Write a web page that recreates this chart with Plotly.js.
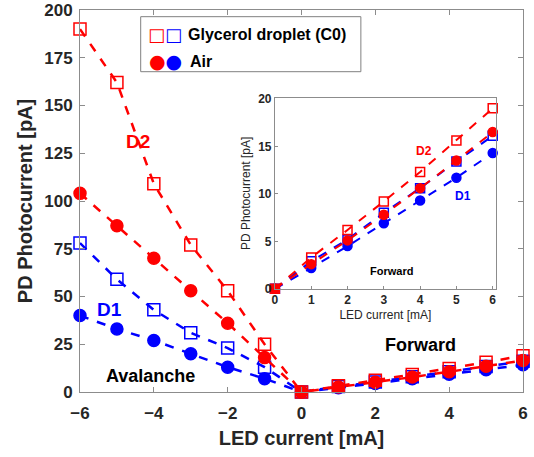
<!DOCTYPE html>
<html><head><meta charset="utf-8">
<script src="https://cdn.plot.ly/plotly-3.0.1.min.js"></script>
<style>body{margin:0;background:#fff}#c{width:534px;height:457px}</style>
</head><body><div id="c"></div>
<script>
const ledCurrent = [-6,-5,-4,-3,-2,-1,0,1,2,3,4,5,6];
const glycerolD2 = [190,162,109,77,53,25,0,3.3,6.2,9.2,12.3,15.6,19.0];
const airD2      = [104,87,70,53,36,18,0,2.6,5.1,7.8,10.6,13.5,16.5];
const glycerolD1 = [78,59,43,31,23,13,0,2.9,5.2,8.0,10.6,13.4,16.1];
const airD1      = [40,33,27,20,13,7,0,2.2,4.5,6.9,9.3,11.7,14.3];
const fwdCurrent = [0,1,2,3,4,5,6];
const fwdGlyD2 = glycerolD2.slice(6);
const fwdAirD2 = airD2.slice(6);
const fwdGlyD1 = glycerolD1.slice(6);
const fwdAirD1 = airD1.slice(6);

const RED='#ff0000', BLUE='#0000ff';
function tr(x,y,color,sym,xa,ya,msize,lw){
  return {x:x,y:y,xaxis:xa,yaxis:ya,type:'scatter',mode:'lines+markers',showlegend:false,cliponaxis:false,
    line:{color:color,dash:'dash',width:lw},
    marker:{symbol:sym,size:msize,color:color,line:{color:color,width:1.5}}};
}
const data=[
  tr(ledCurrent,airD1,BLUE,'circle','x','y',12,2.5),
  tr(ledCurrent,glycerolD1,BLUE,'square-open','x','y',12,2.5),
  tr(ledCurrent,airD2,RED,'circle','x','y',12,2.5),
  tr(ledCurrent,glycerolD2,RED,'square-open','x','y',12,2.5),
  tr(fwdCurrent,fwdAirD1,BLUE,'circle','x2','y2',9,2),
  tr(fwdCurrent,fwdGlyD1,BLUE,'square-open','x2','y2',9,2),
  tr(fwdCurrent,fwdAirD2,RED,'circle','x2','y2',9,2),
  tr(fwdCurrent,fwdGlyD2,RED,'square-open','x2','y2',9,2)
];
const axC='#8c8c8c', txt='#262626';
const F='Liberation Sans, Arial, sans-serif';
const layout={
  width:534,height:457,margin:{l:80,r:11,t:10,b:65},
  paper_bgcolor:'#fff',plot_bgcolor:'#fff',
  font:{family:F,color:txt},
  xaxis:{range:[-6,6],tickvals:[-6,-4,-2,0,2,4,6],showgrid:false,zeroline:false,
    showline:true,mirror:'ticks',linecolor:axC,linewidth:1,ticks:'inside',ticklen:5,tickcolor:axC,
    ticklabelstandoff:6,
    tickfont:{size:17,weight:'bold',color:txt},
    title:{text:'LED current [mA]',font:{size:20,weight:'bold',color:txt},standoff:8}},
  yaxis:{range:[0,200],tickvals:[0,25,50,75,100,125,150,175,200],showgrid:false,zeroline:false,
    showline:true,mirror:'ticks',linecolor:axC,linewidth:1,ticks:'inside',ticklen:5,tickcolor:axC,
    ticklabelstandoff:3,
    tickfont:{size:17,weight:'bold',color:txt},
    title:{text:'PD Photocurrent [pA]',font:{size:20,weight:'bold',color:txt},standoff:6}},
  xaxis2:{domain:[0.440,0.939],anchor:'y2',range:[0,6.09],tickvals:[0,1,2,3,4,5,6],showgrid:false,zeroline:false,
    showline:true,mirror:true,linecolor:axC,linewidth:1,ticks:'inside',ticklen:3,tickcolor:axC,
    tickfont:{size:12,weight:'bold',color:txt},
    title:{text:'LED current [mA]',font:{size:12,color:txt},standoff:4}},
  yaxis2:{domain:[0.270,0.770],anchor:'x2',range:[0,20.1],tickvals:[0,5,10,15,20],showgrid:false,zeroline:false,
    showline:true,mirror:true,linecolor:axC,linewidth:1,ticks:'inside',ticklen:3,tickcolor:axC,
    tickfont:{size:12,weight:'bold',color:txt},
    title:{text:'PD Photocurrent [pA]',font:{size:12,color:txt},standoff:4}},
  shapes:[{type:'rect',xref:'paper',yref:'paper',x0:0.137,x1:0.634,y0:0.8385,y1:0.9825,
    line:{color:'#808080',width:1},fillcolor:'#fff',layer:'above'}],
  annotations:[
    {xref:'x',yref:'y',x:-4.43,y:131,text:'D2',showarrow:false,font:{size:19,weight:'bold',color:RED}},
    {xref:'x',yref:'y',x:-5.19,y:43,text:'D1',showarrow:false,font:{size:19,weight:'bold',color:BLUE}},
    {xref:'x',yref:'y',x:-4.1,y:8.5,text:'Avalanche',showarrow:false,font:{size:18,weight:'bold',color:'#000'}},
    {xref:'x',yref:'y',x:3.23,y:24.6,text:'Forward',showarrow:false,font:{size:18,weight:'bold',color:'#000'}},
    {xref:'x2',yref:'y2',x:4.1,y:14.5,text:'D2',showarrow:false,font:{size:12,weight:'bold',color:RED}},
    {xref:'x2',yref:'y2',x:5.18,y:9.8,text:'D1',showarrow:false,font:{size:12,weight:'bold',color:BLUE}},
    {xref:'x2',yref:'y2',x:3.22,y:1.9,text:'Forward',showarrow:false,font:{size:11,weight:'bold',color:'#000'}},
    {xref:'paper',yref:'paper',x:0.150,y:0.937,xanchor:'left',yanchor:'middle',showarrow:false,
      text:'<span style="color:#ff0000">□</span><span style="color:#0000ff">□</span>',font:{size:18,family:'DejaVu Sans'}},
    {xref:'paper',yref:'paper',x:0.240,y:0.937,xanchor:'left',yanchor:'middle',showarrow:false,
      text:'Glycerol droplet (C0)',font:{size:16,weight:'bold',color:'#000'}},
    {xref:'paper',yref:'paper',x:0.152,y:0.866,xanchor:'left',yanchor:'middle',showarrow:false,
      text:'<span style="color:#ff0000">●</span><span style="color:#0000ff">●</span>',font:{size:19,family:'DejaVu Sans'}},
    {xref:'paper',yref:'paper',x:0.244,y:0.866,xanchor:'left',yanchor:'middle',showarrow:false,
      text:'Air',font:{size:16,weight:'bold',color:'#000'}}
  ]
};
Plotly.newPlot('c',data,layout,{displayModeBar:false,staticPlot:true});
</script></body></html>
